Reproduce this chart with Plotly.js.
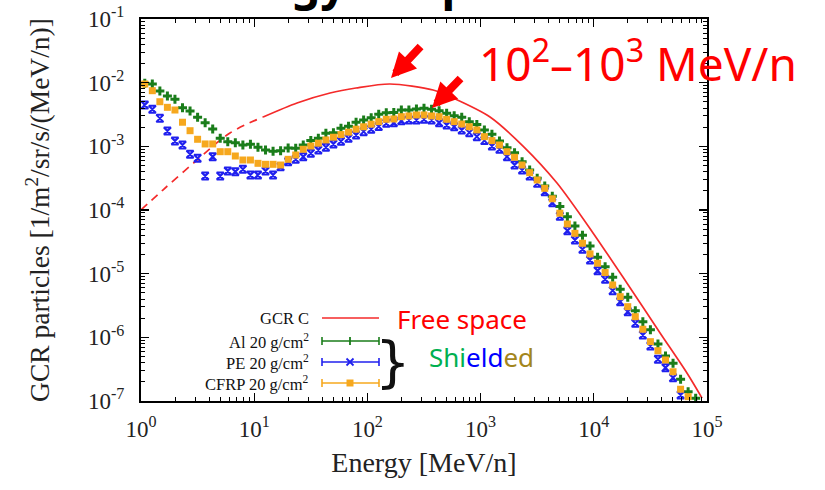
<!DOCTYPE html>
<html>
<head>
<meta charset="utf-8">
<script src="https://cdn.plot.ly/plotly-3.0.1.min.js"></script>
<style>html,body{margin:0;padding:0;background:#fff;}#chart{width:825px;height:490px;}</style>
</head>
<body>
<div id="chart"></div>
<script>
// ---- data ----
const energy = [
  1.080, 1.259, 1.468, 1.711, 1.995, 2.326, 2.712, 3.162, 3.687, 4.299, 5.012, 5.843, 6.813, 7.943, 9.261,
  10.80, 12.59, 14.68, 17.11, 19.95, 23.26, 27.12, 31.62, 36.87, 42.99, 50.12, 58.43, 68.13, 79.43, 92.61,
  108.0, 125.9, 146.8, 171.1, 199.5, 232.6, 271.2, 316.2, 368.7, 429.9, 501.2, 584.3, 681.3, 794.3, 926.1,
  1080, 1259, 1468, 1711, 1995, 2326, 2712, 3162, 3687, 4299, 5012, 5843, 6813, 7943, 9261,
  10800, 12590, 14680, 17110, 19950, 23260, 27120, 31620, 36870, 42990, 50120, 58430, 68130, 79430
];
const al20 = [
  9.77e-3, 9.53e-3, 7.40e-3, 6.18e-3, 5.48e-3, 4.05e-3, 3.59e-3, 2.86e-3, 2.35e-3, 1.87e-3,
  1.34e-3, 1.18e-3, 1.14e-3, 1.05e-3, 1.08e-3, 9.66e-4, 8.77e-4, 8.36e-4, 8.55e-4, 9.42e-4,
  9.31e-4, 1.05e-3, 1.23e-3, 1.34e-3, 1.60e-3, 1.64e-3, 1.92e-3, 2.06e-3, 2.40e-3, 2.59e-3,
  2.80e-3, 3.18e-3, 3.38e-3, 3.40e-3, 3.72e-3, 3.72e-3, 3.86e-3, 3.96e-3, 3.82e-3, 3.63e-3,
  3.31e-3, 3.03e-3, 2.86e-3, 2.44e-3, 2.20e-3, 1.80e-3, 1.55e-3, 1.21e-3, 9.53e-4, 7.95e-4,
  5.74e-4, 4.25e-4, 3.15e-4, 2.38e-4, 1.65e-4, 1.13e-4, 7.85e-5, 5.61e-5, 4.01e-5, 2.72e-5,
  1.81e-5, 1.29e-5, 8.77e-6, 5.69e-6, 4.26e-6, 2.62e-6, 1.76e-6, 1.31e-6, 7.87e-7, 5.10e-7,
  3.92e-7, 2.19e-7, 1.40e-7, 1.10e-7
];
const pe20 = [
  4.46e-3, 3.82e-3, 2.75e-3, 1.74e-3, 1.21e-3, 1.05e-3, 7.50e-4, 6.49e-4, 3.42e-4, 6.87e-4,
  3.42e-4, 4.10e-4, 4.00e-4, 4.36e-4, 3.55e-4, 3.55e-4, 4.10e-4, 3.55e-4, 4.79e-4, 5.74e-4,
  6.25e-4, 6.87e-4, 7.78e-4, 8.77e-4, 9.66e-4, 1.09e-3, 1.20e-3, 1.34e-3, 1.51e-3, 1.70e-3,
  1.85e-3, 2.05e-3, 2.30e-3, 2.35e-3, 2.53e-3, 2.59e-3, 2.59e-3, 2.66e-3, 2.59e-3, 2.35e-3,
  2.16e-3, 2.03e-3, 1.81e-3, 1.64e-3, 1.42e-3, 1.23e-3, 1.01e-3, 8.99e-4, 6.87e-4, 5.09e-4,
  4.25e-4, 3.42e-4, 2.62e-4, 1.94e-4, 1.30e-4, 8.00e-5, 4.73e-5, 3.38e-5, 2.42e-5, 1.64e-5,
  1.11e-5, 8.17e-6, 5.41e-6, 3.63e-6, 2.53e-6, 1.66e-6, 1.09e-6, 7.31e-7, 4.52e-7, 3.33e-7,
  2.32e-7, 1.24e-7
];
const cfrp20 = [
  9.53e-3, 7.48e-3, 5.02e-3, 4.10e-3, 3.72e-3, 2.39e-3, 1.76e-3, 1.29e-3, 1.09e-3, 1.09e-3,
  8.24e-4, 8.24e-4, 7.05e-4, 6.10e-4, 6.10e-4, 5.41e-4, 5.22e-4, 5.22e-4, 5.09e-4, 6.25e-4,
  7.31e-4, 8.99e-4, 1.01e-3, 1.12e-3, 1.26e-3, 1.39e-3, 1.53e-3, 1.67e-3, 1.86e-3, 2.03e-3,
  2.23e-3, 2.44e-3, 2.66e-3, 2.69e-3, 2.92e-3, 3.00e-3, 3.11e-3, 3.11e-3, 3.00e-3, 2.92e-3,
  2.66e-3, 2.44e-3, 2.24e-3, 2.03e-3, 1.81e-3, 1.42e-3, 1.23e-3, 1.05e-3, 8.24e-4, 6.73e-4,
  5.09e-4, 3.86e-4, 2.96e-4, 2.19e-4, 1.50e-4, 8.90e-5, 6.03e-5, 4.30e-5, 3.00e-5, 2.04e-5,
  1.46e-5, 1.04e-5, 6.64e-6, 4.35e-6, 3.03e-6, 2.11e-6, 1.34e-6, 8.55e-7, 6.17e-7, 4.41e-7,
  2.88e-7, 1.53e-7, 1.17e-7
];
// GCR C free-space spectrum (dashed below ~12 MeV/n)
const freeE_dash = [1.0, 1.56, 3.13, 6.11, 12.0];
const freeF_dash = [1.00e-4, 2.06e-4, 6.10e-4, 1.62e-3, 2.89e-3];
const freeE = [12.0, 23.9, 46.8, 79.3, 158, 380, 571, 1211, 2370, 4730, 9840, 19600, 38500, 66500, 90400];
const freeF = [2.89e-3, 4.80e-3, 6.89e-3, 8.24e-3, 9.53e-3, 7.67e-3, 5.74e-3, 2.89e-3, 1.01e-3, 2.65e-4, 4.36e-5, 7.14e-6, 1.17e-6, 2.75e-7, 1.11e-7];

const xTickVals = [1, 10, 100, 1000, 10000, 100000];
const xTickText = ['10<sup>0</sup>', '10<sup>1</sup>', '10<sup>2</sup>', '10<sup>3</sup>', '10<sup>4</sup>', '10<sup>5</sup>'];
const yTickVals = [1e-7, 1e-6, 1e-5, 1e-4, 1e-3, 1e-2, 1e-1];
const yTickText = ['10<sup>-7</sup>', '10<sup>-6</sup>', '10<sup>-5</sup>', '10<sup>-4</sup>', '10<sup>-3</sup>', '10<sup>-2</sup>', '10<sup>-1</sup>'];

const legendLabels = ['GCR C', 'Al 20 g/cm<sup>2</sup>', 'PE 20 g/cm<sup>2</sup>', 'CFRP 20 g/cm<sup>2</sup>'];
const seriesColors = ['#f42a2a', '#1a7d1a', '#2020ee', '#f6a81e'];

// ---- figure ----
const W = 825, H = 490;
const M = {l: 141, r: 118, t: 19, b: 89};
const PW = W - M.l - M.r, PH = H - M.t - M.b;
const px = x => (x - M.l) / PW;      // pixel -> paper (decorations only)
const py = y => (H - M.b - y) / PH;

const serif = 'Liberation Serif, Times New Roman, serif';
const sans = 'Noto Sans, Open Sans, sans-serif';

const traces = [
  {x: freeE_dash, y: freeF_dash, mode: 'lines', line: {color: seriesColors[0], width: 1.7, dash: '8px,6px', shape: 'spline'}, hoverinfo: 'skip'},
  {x: freeE, y: freeF, mode: 'lines', line: {color: seriesColors[0], width: 1.7, shape: 'spline', smoothing: 0.8}, name: 'GCR C'},
  {x: energy.slice(0, al20.length), y: al20, mode: 'markers', name: 'Al 20 g/cm2',
   marker: {symbol: 'cross', size: 7.5, color: seriesColors[1]}},
  {x: energy.slice(0, pe20.length), y: pe20, mode: 'markers', name: 'PE 20 g/cm2',
   marker: {symbol: 'hourglass-open', size: 7, color: seriesColors[2], line: {width: 2, color: seriesColors[2]}}},
  {x: energy.slice(0, cfrp20.length), y: cfrp20, mode: 'markers', name: 'CFRP 20 g/cm2',
   marker: {symbol: 'square', size: 7, color: seriesColors[3]}}
];

// custom gnuplot-style key (text left, sample right)
const keyRows = [318, 341, 362, 383];
const shapes = [];
const annotations = [];
const lx0 = 322, lx1 = 379, lxc = 350;
keyRows.forEach((ry, i) => {
  annotations.push({xref: 'paper', yref: 'paper', x: px(311), y: py(ry), xanchor: 'right', yanchor: 'middle',
    text: legendLabels[i], showarrow: false, font: {family: serif, size: 16.5, color: '#111'}});
  shapes.push({type: 'line', xref: 'paper', yref: 'paper', x0: px(lx0), x1: px(lx1), y0: py(ry), y1: py(ry),
    line: {color: seriesColors[i], width: 1.6}});
  if (i > 0) {
    [lx0, lx1].forEach(ex => shapes.push({type: 'line', xref: 'paper', yref: 'paper', x0: px(ex), x1: px(ex),
      y0: py(ry - 4), y1: py(ry + 4), line: {color: seriesColors[i], width: 1.6}}));
  }
});
// key sample symbols
shapes.push({type: 'line', xref: 'paper', yref: 'paper', x0: px(lxc), x1: px(lxc), y0: py(341 - 4), y1: py(341 + 4), line: {color: seriesColors[1], width: 1.8}});
shapes.push({type: 'line', xref: 'paper', yref: 'paper', x0: px(lxc - 3.5), x1: px(lxc + 3.5), y0: py(362 - 3.5), y1: py(362 + 3.5), line: {color: seriesColors[2], width: 1.8}});
shapes.push({type: 'line', xref: 'paper', yref: 'paper', x0: px(lxc - 3.5), x1: px(lxc + 3.5), y0: py(362 + 3.5), y1: py(362 - 3.5), line: {color: seriesColors[2], width: 1.8}});
shapes.push({type: 'rect', xref: 'paper', yref: 'paper', x0: px(lxc - 3.5), x1: px(lxc + 3.5), y0: py(383 - 3.5), y1: py(383 + 3.5), fillcolor: seriesColors[3], line: {width: 0}});

// brace
annotations.push({xref: 'paper', yref: 'paper', x: px(393), y: py(361), xanchor: 'center', yanchor: 'middle',
  text: '}', showarrow: false, font: {family: 'DejaVu Sans', size: 56, color: '#111'}});

annotations.push({xref: 'paper', yref: 'paper', x: px(462), y: py(319), xanchor: 'center', yanchor: 'middle',
  text: 'Free space', showarrow: false, font: {family: sans, size: 26, color: '#ff0000'}});
annotations.push({xref: 'paper', yref: 'paper', x: px(481), y: py(357), xanchor: 'center', yanchor: 'middle',
  text: '<span style="color:#00b050">Shi</span><span style="color:#0000ff">eld</span><span style="color:#a3861c">ed</span>',
  showarrow: false, font: {family: sans, size: 26, color: '#00b050'}});
annotations.push({xref: 'paper', yref: 'paper', x: px(638), y: py(61), xanchor: 'center', yanchor: 'middle',
  text: '10<sup>2</sup>\u201310<sup>3</sup> MeV/n', showarrow: false, font: {family: sans, size: 46, color: '#ff0000'}});
// red arrows
annotations.push({xref: 'paper', yref: 'paper', x: px(391), y: py(78), ax: 31, ay: -33, text: '', showarrow: true,
  arrowhead: 2, arrowsize: 0.62, arrowwidth: 8, arrowcolor: '#ff0000', standoff: 0});
annotations.push({xref: 'paper', yref: 'paper', x: px(432), y: py(108), ax: 30, ay: -31, text: '', showarrow: true,
  arrowhead: 2, arrowsize: 0.62, arrowwidth: 8, arrowcolor: '#ff0000', standoff: 0});
// cropped slide title at the very top
annotations.push({xref: 'paper', yref: 'paper', x: px(186), y: py(15), xanchor: 'left', yanchor: 'bottom',
  text: '<b>Energy&nbsp;&nbsp;&nbsp;&nbsp;&nbsp;&nbsp;spectrum</b>', showarrow: false, font: {family: sans, size: 46, color: '#000'}});

const axisCommon = {
  type: 'log', showline: true, linewidth: 2, linecolor: '#000', mirror: 'ticks',
  ticks: 'inside', ticklen: 8, tickwidth: 1.3, tickcolor: '#000', showgrid: false, zeroline: false,
  tickmode: 'array',
  minor: {ticks: 'inside', ticklen: 4, tickwidth: 1, tickcolor: '#000', dtick: 'D1', showgrid: false},
  tickfont: {family: serif, size: 23, color: '#222'}
};

const layout = {
  width: W, height: H, margin: M, paper_bgcolor: '#fff', plot_bgcolor: '#fff', showlegend: false,
  xaxis: Object.assign({}, axisCommon, {range: [0, 5], tickvals: xTickVals, ticktext: xTickText, ticklabelstandoff: 6,
    title: {text: 'Energy [MeV/n]', font: {family: serif, size: 28, color: '#222'}, standoff: 12}}),
  yaxis: Object.assign({}, axisCommon, {range: [-7, -1], tickvals: yTickVals, ticktext: yTickText, ticklabelstandoff: 10,
    title: {text: 'GCR particles [1/m<sup>2</sup>/sr/s/(MeV/n)]', font: {family: serif, size: 27.5, color: '#222'}, standoff: 30}}),
  shapes: shapes, annotations: annotations
};

Plotly.newPlot('chart', traces, layout, {staticPlot: true});
</script>
</body>
</html>
